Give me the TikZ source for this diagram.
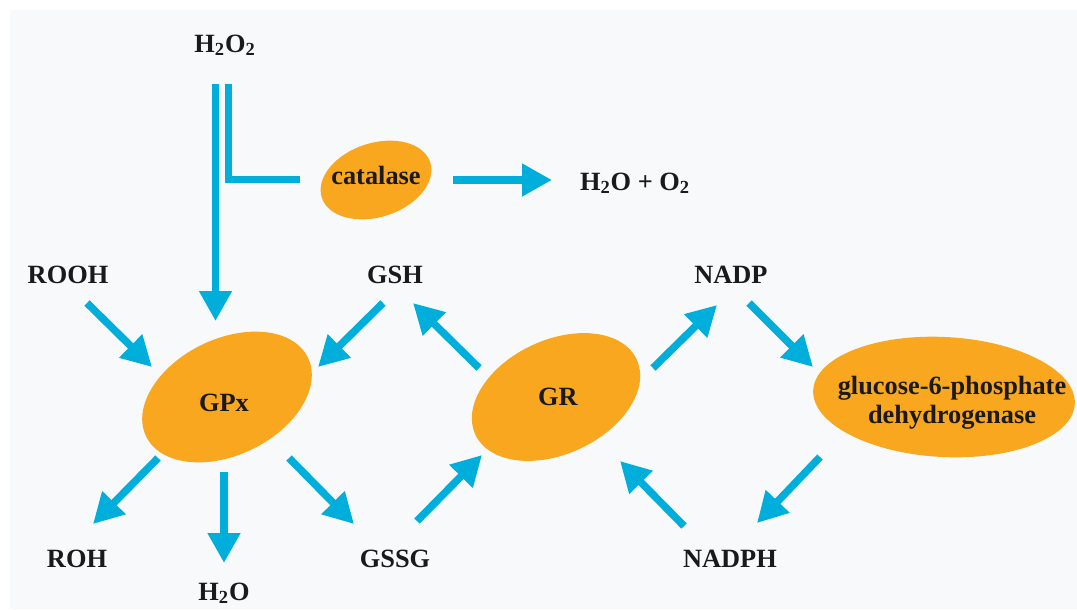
\documentclass[tikz,border=0pt]{standalone}
\usepackage{fontspec}
\setmainfont{Liberation Serif}
\usetikzlibrary{arrows.meta,backgrounds}

\definecolor{flowblue}{HTML}{00AEDB}
\definecolor{enzorange}{HTML}{F9A71E}
\definecolor{ink}{HTML}{1A1A1A}
\definecolor{panel}{HTML}{F8F9FA}

\begin{document}
\begin{tikzpicture}[
    x=0.02cm, y=-0.02cm,
    species/.style={anchor=base, inner sep=0pt, text=ink, font=\bfseries\fontsize{15}{16}\selectfont},
    enzyme/.style={fill=enzorange},
    flow/.style={draw=flowblue, line width=0.15cm, -{Triangle[length=0.6cm, width=0.62cm]}},
    bar/.style={draw=flowblue, line width=0.14cm}
]
\useasboundingbox (0,0) rectangle (1077,609);

% Substrates and products
\node[species] (h2o2) at (225,52) {H\textsubscript{2}O\textsubscript{2}};
\node[species] (prod) at (635,190) {H\textsubscript{2}O + O\textsubscript{2}};
\node[species] (rooh) at (68,283) {ROOH};
\node[species] (gsh) at (395,283) {GSH};
\node[species] (nadp) at (731,283) {NADP};
\node[species] (roh) at (77,567) {ROH};
\node[species] (water) at (224,600) {H\textsubscript{2}O};
\node[species] (gssg) at (395,567) {GSSG};
\node[species] (nadph) at (730,567) {NADPH};

% Enzymes
\node[species] (cat) at (376,184) {catalase};
\node[species] (gpx) at (224,411) {GPx};
\node[species] (gr) at (558,405) {GR};
\node[species, anchor=center, align=center, font=\bfseries\fontsize{15}{16.5}\selectfont] (g6pd) at (952,403) {glucose-6-phosphate\\dehydrogenase};

% Enzyme shapes
\begin{scope}[on background layer]
    \fill[panel] (10,10) rectangle (1077,609);
    \fill[enzyme, rotate around={18:(376,180)}] (376,180) ellipse [x radius=1.14cm, y radius=0.74cm];
    \fill[enzyme, rotate around={26:(227,397)}] (227,397) ellipse [x radius=1.8cm, y radius=1.16cm];
    \fill[enzyme, rotate around={25:(556,397)}] (556,397) ellipse [x radius=1.78cm, y radius=1.14cm];
    \fill[enzyme, rotate around={-3:(944,397)}] (944,397) ellipse [x radius=2.62cm, y radius=1.2cm];
\end{scope}

% Catalase branch
\draw[flow] ([shift={(-9.5,32)}]h2o2.base) -- ([shift={(-8.5,-90)}]gpx.base);
\draw[bar] ([shift={(3.5,32)}]h2o2.base) |- ([shift={(-76,-4.5)}]cat.base);
\draw[flow] ([shift={(77,-4)}]cat.base) -- ([shift={(-83,-10)}]prod.base);

% GPx reactions
\draw[flow] ([shift={(19,20)}]rooh.base) -- ([shift={(-72,-44)}]gpx.base);
\draw[flow] ([shift={(-12,20)}]gsh.base) -- ([shift={(94,-44)}]gpx.base);
\draw[flow] ([shift={(-66,47)}]gpx.base) -- ([shift={(16,-43)}]roh.base);
\draw[flow] ([shift={(0,61)}]gpx.base) -- ([shift={(0,-37)}]water.base);
\draw[flow] ([shift={(65,47)}]gpx.base) -- ([shift={(-41,-43)}]gssg.base);

% GR cycle
\draw[flow] ([shift={(22,-46)}]gssg.base) -- ([shift={(-76,50)}]gr.base);
\draw[flow] ([shift={(-79,-37)}]gr.base) -- ([shift={(18,20)}]gsh.base);
\draw[flow] ([shift={(95,-37)}]gr.base) -- ([shift={(-14,22)}]nadp.base);
\draw[flow] ([shift={(18,20)}]nadp.base) -- ([shift={(-139,-36)}]g6pd.center);
\draw[flow] ([shift={(-132,54)}]g6pd.center) -- ([shift={(27,-44)}]nadph.base);
\draw[flow] ([shift={(-46,-41)}]nadph.base) -- ([shift={(62,56)}]gr.base);

\end{tikzpicture}
\end{document}
